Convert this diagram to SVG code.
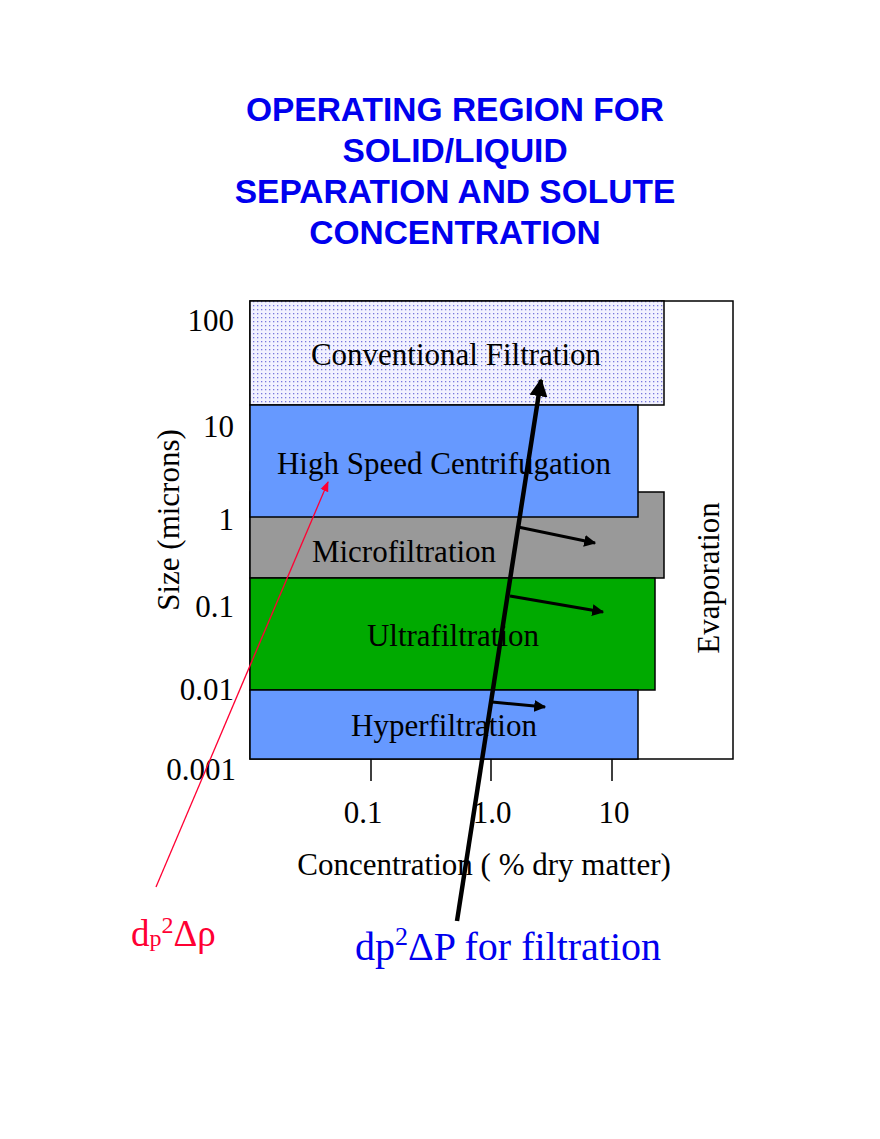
<svg xmlns="http://www.w3.org/2000/svg" width="880" height="1139" viewBox="0 0 880 1139">
<style>
.t{font-family:"Liberation Sans",Arial,sans-serif;font-weight:bold;font-size:33.5px;fill:#0000ee;text-anchor:middle}
.s{font-family:"Liberation Serif","Times New Roman",serif;font-size:31px;fill:#000}
.b{stroke:#000;stroke-width:1.5}
</style>
<defs>
<pattern id="dots" width="4" height="4" patternUnits="userSpaceOnUse"><rect width="4" height="4" fill="#f2f2ff"/><rect x="1" y="1" width="1.3" height="1.3" fill="#7777dd"/></pattern>
<marker id="ah" viewBox="0 0 10 10" refX="9" refY="5" markerWidth="4" markerHeight="4" orient="auto"><path d="M0,0L10,5L0,10z" fill="#000"/></marker>
<marker id="ar" viewBox="0 0 10 10" refX="9" refY="5" markerWidth="8" markerHeight="8" orient="auto"><path d="M0,1L10,5L0,9z" fill="#ff0033"/></marker>
</defs>
<g id="title">
<text class="t" x="455" y="121">OPERATING REGION FOR</text>
<text class="t" x="455" y="162">SOLID/LIQUID</text>
<text class="t" x="455" y="203">SEPARATION AND SOLUTE</text>
<text class="t" x="455" y="244">CONCENTRATION</text>
</g>
<g id="evaporation"><rect class="b" x="250" y="301" width="483" height="458" fill="#fff"/>
<text class="s" transform="translate(719,578) rotate(-90)" text-anchor="middle">Evaporation</text></g>
<g id="conventional"><rect class="b" x="250" y="301" width="414" height="104" fill="url(#dots)"/>
<text class="s" x="456" y="365" text-anchor="middle">Conventional Filtration</text></g>
<g id="micro"><rect class="b" x="250" y="492" width="414" height="86" fill="#999999"/>
<text class="s" x="404" y="562" text-anchor="middle">Microfiltration</text></g>
<g id="hsc"><rect class="b" x="250" y="405" width="388" height="112" fill="#6699ff"/>
<text class="s" x="444" y="474" text-anchor="middle">High Speed Centrifugation</text></g>
<g id="ultra"><rect class="b" x="250" y="578" width="405" height="112" fill="#00aa00"/>
<text class="s" x="453" y="646" text-anchor="middle">Ultrafiltration</text></g>
<g id="hyper"><rect class="b" x="250" y="690" width="388" height="69" fill="#6699ff"/>
<text class="s" x="444" y="736" text-anchor="middle">Hyperfiltration</text></g>
<g id="axes">
<path class="b" d="M371,759V781M491,759V781M612,759V781" fill="none"/>
<g class="s" text-anchor="middle"><text x="363" y="823">0.1</text><text x="492" y="823">1.0</text><text x="614" y="823">10</text></g>
<g class="s" text-anchor="end"><text x="234" y="331">100</text><text x="234" y="437">10</text><text x="234" y="530">1</text><text x="234" y="617">0.1</text><text x="234" y="700">0.01</text><text x="236" y="780">0.001</text></g>
<text class="s" transform="translate(179,520) rotate(-90)" text-anchor="middle">Size (microns)</text>
<text class="s" x="484" y="875" text-anchor="middle">Concentration ( % dry matter)</text>
</g>
<g id="connectors" fill="none">
<path d="M457,921L541,380" stroke="#000" stroke-width="4.5" marker-end="url(#ah)"/>
<path d="M518,527L595,543" stroke="#000" stroke-width="3" marker-end="url(#ah)"/>
<path d="M510,596L603,612" stroke="#000" stroke-width="3" marker-end="url(#ah)"/>
<path d="M492,702L545,707" stroke="#000" stroke-width="3" marker-end="url(#ah)"/>
<path d="M156,887L328,482" stroke="#ff0033" stroke-width="1.3" marker-end="url(#ar)"/>
</g>
<g id="labels">
<text x="131" y="946" font-family="Liberation Serif,serif" font-size="37" fill="#ff0033">d<tspan font-size="24">p</tspan><tspan font-size="24" dy="-13">2</tspan><tspan dy="13">Δρ</tspan></text>
<text x="355" y="960" font-family="Liberation Serif,serif" font-size="40" fill="#0000ee">dp<tspan font-size="26" dy="-15">2</tspan><tspan dy="15">ΔP for filtration</tspan></text>
</g>
</svg>
